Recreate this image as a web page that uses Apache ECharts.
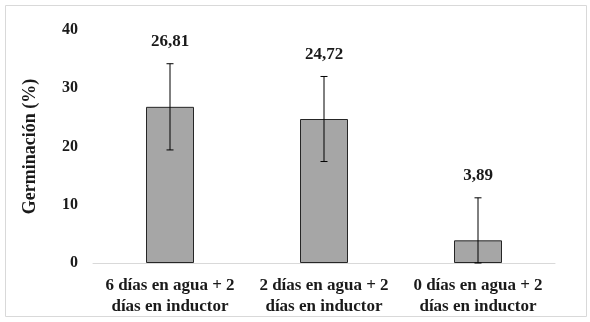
<!DOCTYPE html>
<html>
<head>
<meta charset="utf-8">
<script src="https://cdn.jsdelivr.net/npm/echarts@6/dist/echarts.min.js"></script>
<style>
  html, body { margin: 0; padding: 0; background: #fff; }
  #main { width: 590px; height: 322px; }
</style>
</head>
<body>
<div id="main"></div>
<script>
// datos
const categories = [
  "6 días en agua + 2\ndías en inductor",
  "2 días en agua + 2\ndías en inductor",
  "0 días en agua + 2\ndías en inductor"
];
const germination = [26.81, 24.72, 3.89];
const errors = [7.4, 7.3, 7.3];
const yTicks = [0, 10, 20, 30, 40];

const FONT = "Liberation Serif";
const fmt = v => v.toFixed(2).replace(".", ",");

const chart = echarts.init(document.getElementById("main"));

chart.setOption({
  animation: false,
  graphic: [{
    type: "rect",
    shape: { x: 5.5, y: 5.5, width: 581, height: 311 },
    style: { fill: "none", stroke: "#d9d9d9", lineWidth: 1 },
    silent: true
  }],
  grid: { left: 93, right: 35, top: 30, bottom: 59 },
  xAxis: {
    type: "category",
    data: categories,
    axisLine: { lineStyle: { color: "#d9d9d9", width: 1 } },
    axisTick: { show: false },
    axisLabel: {
      interval: 0,
      hideOverlap: false,
      color: "#1a1a1a",
      fontFamily: FONT,
      fontSize: 17,
      fontWeight: "bold",
      lineHeight: 21,
      margin: 12
    }
  },
  yAxis: {
    type: "value",
    min: yTicks[0],
    max: yTicks[yTicks.length - 1],
    interval: 10,
    name: "Germinación (%)",
    nameLocation: "middle",
    nameGap: 54,
    nameTextStyle: { color: "#1a1a1a", fontFamily: FONT, fontSize: 18, fontWeight: "bold" },
    axisLine: { show: false },
    axisTick: { show: false },
    splitLine: { show: false },
    axisLabel: { color: "#1a1a1a", fontFamily: FONT, fontSize: 16, fontWeight: "bold", margin: 15 }
  },
  series: [
    {
      type: "bar",
      data: germination,
      barWidth: 48,
      itemStyle: { color: "#a6a6a6", borderColor: "#262626", borderWidth: 1 }
    },
    {
      type: "custom",
      data: germination.map((v, i) => [i, v, errors[i]]),
      z: 10,
      renderItem: function (params, api) {
        const i = api.value(0), v = api.value(1), e = api.value(2);
        const top = api.coord([i, v + e]);
        const bot = api.coord([i, Math.max(v - e, 0)]);
        const cap = 3.5;
        const stroke = { stroke: "#000", lineWidth: 1 };
        return {
          type: "group",
          children: [
            { type: "line", shape: { x1: top[0], y1: top[1], x2: bot[0], y2: bot[1] }, style: stroke },
            { type: "line", shape: { x1: top[0] - cap, y1: top[1], x2: top[0] + cap, y2: top[1] }, style: stroke },
            { type: "line", shape: { x1: bot[0] - cap, y1: bot[1], x2: bot[0] + cap, y2: bot[1] }, style: stroke },
            {
              type: "text",
              x: top[0],
              y: top[1] - 22,
              style: {
                text: fmt(v),
                fill: "#1a1a1a",
                font: "bold 17px " + FONT,
                align: "center",
                verticalAlign: "middle"
              }
            }
          ]
        };
      }
    }
  ]
});
</script>
</body>
</html>
